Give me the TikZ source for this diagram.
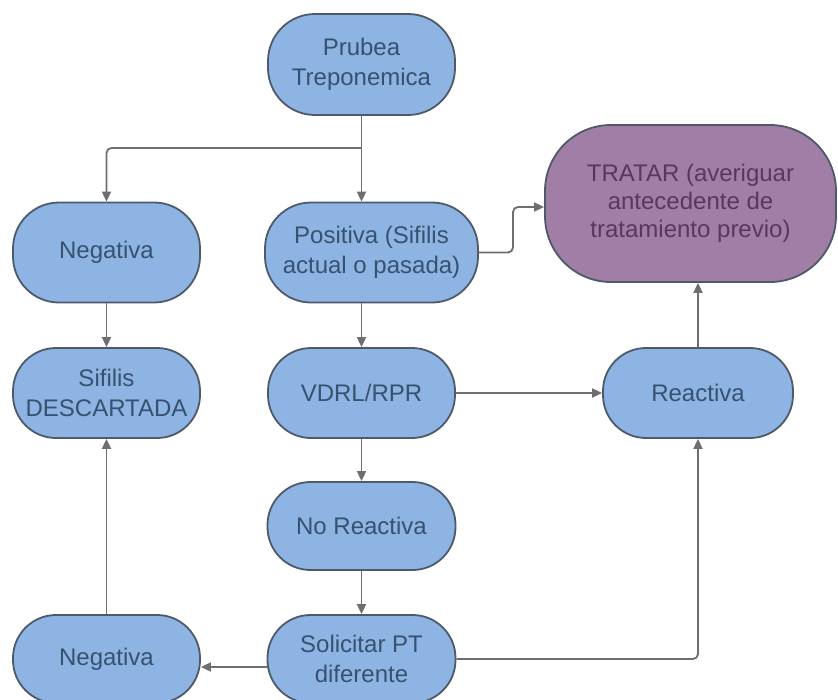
\documentclass[tikz,border=0pt]{standalone}
\usepackage{fontspec}
\setmainfont{Liberation Sans}
\usetikzlibrary{arrows.meta,calc}
\definecolor{bfill}{RGB}{141,180,226}
\definecolor{pfill}{RGB}{160,126,166}
\definecolor{bord}{RGB}{78,90,106}
\definecolor{btext}{RGB}{55,82,112}
\definecolor{ptext}{RGB}{88,56,92}
\definecolor{conn}{RGB}{110,110,110}
\tikzset{
  box/.style={draw=bord, line width=1.8pt, fill=bfill, text=btext, rectangle,
    rounded corners=43pt, inner sep=0pt, align=center,
    font=\fontsize{24}{30}\selectfont},
  pbox/.style={box, fill=pfill, text=ptext, rounded corners=66pt,
    font=\fontsize{24}{28}\selectfont},
  line/.style={draw=conn, line width=1.8pt, rounded corners=5pt},
  arr/.style={line, -{Triangle[length=10pt,width=9pt]}},
}
\begin{document}
\begin{tikzpicture}[x=1pt,y=-1pt]
\useasboundingbox (0,0) rectangle (838,699);
\clip (0,0) rectangle (838,699);
\fill[white] (0,0) rectangle (838,699);
% nodes
\node[box, minimum width=187pt, minimum height=101pt, rounded corners=47pt] (P) at (361.5,64.5) {Prubea\\Treponemica};
\node[box, minimum width=187pt, minimum height=100pt, rounded corners=46pt] (N1) at (106.5,252.5) {Negativa};
\node[box, minimum width=213pt, minimum height=100pt, rounded corners=46pt] (Pos) at (371.5,252.5) {Positiva (Sifilis\\actual o pasada)};
\node[pbox, minimum width=291pt, minimum height=157pt] (T) at (690.5,203.5) {TRATAR (averiguar\\antecedente de\\tratamiento previo)};
\node[box, minimum width=187pt, minimum height=90pt] (SD) at (106.5,393) {Sifilis\\DESCARTADA};
\node[box, minimum width=187pt, minimum height=90pt] (V) at (361.5,393) {VDRL/RPR};
\node[box, minimum width=190pt, minimum height=90pt] (R) at (698,393) {Reactiva};
\node[box, minimum width=188pt, minimum height=88pt] (NR) at (361.5,526) {No Reactiva};
\node[box, minimum width=187pt, minimum height=88pt] (N2) at (106.5,659) {Negativa};
\node[box, minimum width=188pt, minimum height=88pt] (S) at (361.5,659) {Solicitar PT\\diferente};
% connectors
\coordinate (br) at (361.5,148);
\draw[line] (P.south) -- (br);
\draw[arr] (br) -| (N1.north);
\draw[arr] (br) -- (br |- Pos.north);
\draw[arr] (Pos.east) -- (513,252.5) -- (513,207) -- (T.west |- 0,207);
\draw[arr] (N1.south) -- (SD.north);
\draw[arr] (V.north |- Pos.south) -- (V.north);
\draw[arr] (V.east) -- (R.west);
\draw[arr] (R.north) -- (R.north |- T.south);
\draw[arr] (V.south) -- (NR.north);
\draw[arr] (NR.south) -- (S.north);
\draw[arr] (S.west |- 0,667) -- (N2.east |- 0,667);
\draw[arr] (S.east) -| (R.south);
\draw[arr] (N2.north) -- (SD.south);
\end{tikzpicture}
\end{document}
